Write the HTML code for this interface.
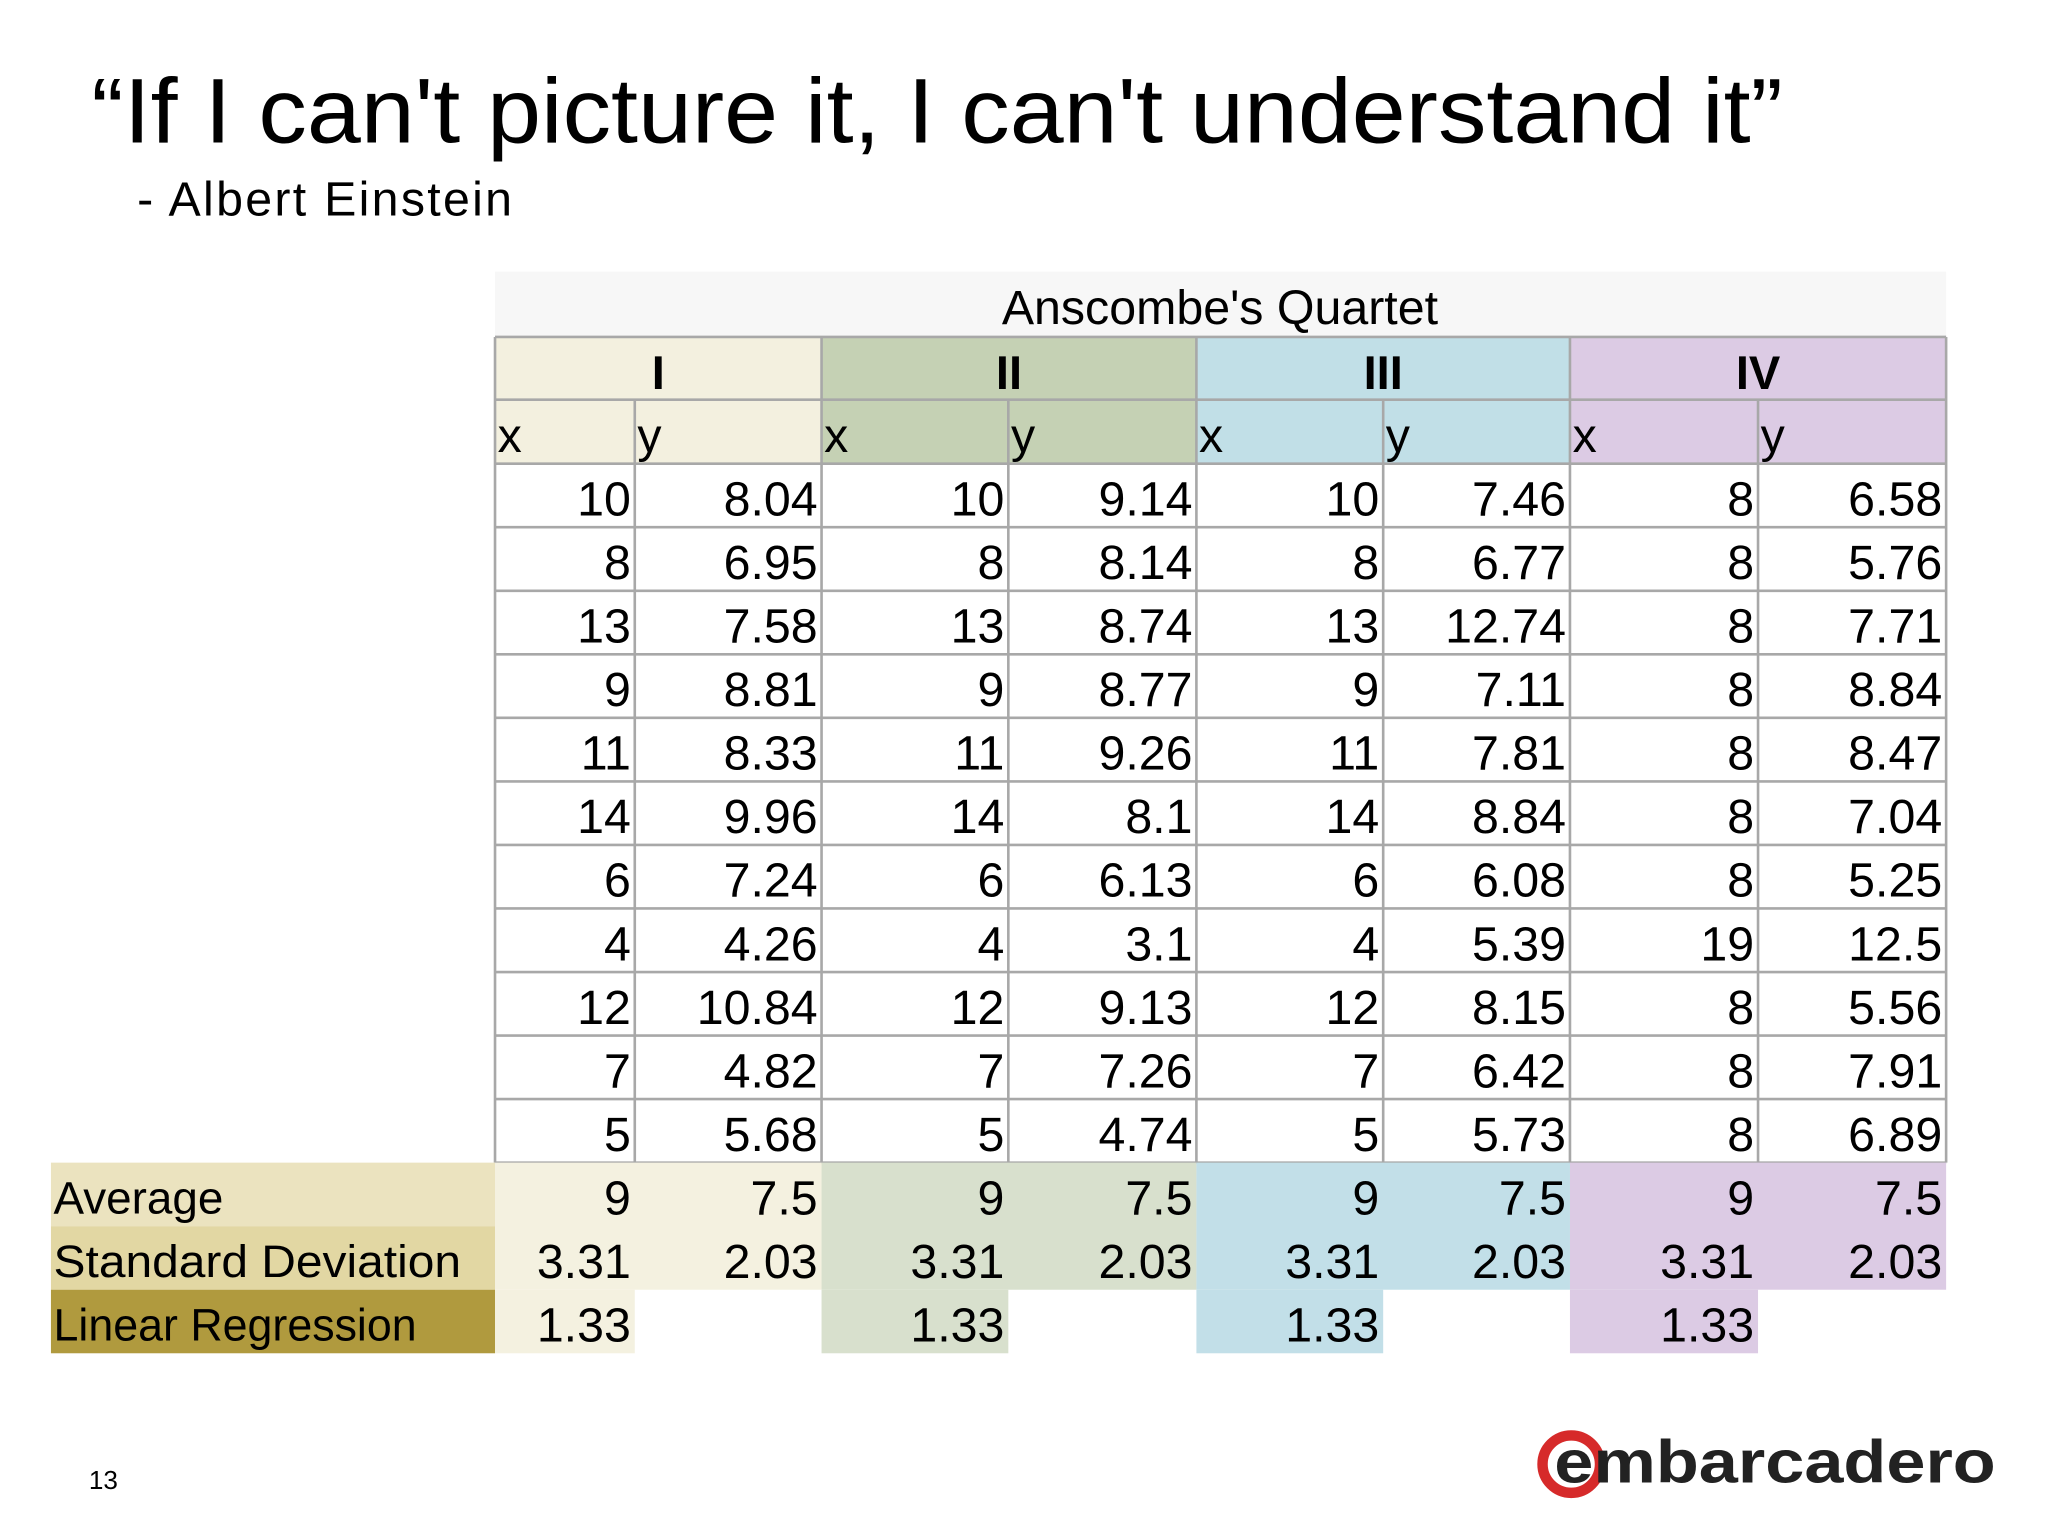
<!DOCTYPE html>
<html><head><meta charset="utf-8"><style>
html,body{margin:0;padding:0;background:#fff;}
svg{display:block;}
text{font-family:"Liberation Sans",sans-serif;}
</style></head><body>
<svg id="s" width="2048" height="1536" viewBox="0 0 1568 1176" xmlns="http://www.w3.org/2000/svg">
<text x="70" y="109" font-size="70" textLength="1295" lengthAdjust="spacingAndGlyphs">“If I can't picture it, I can't understand it”</text>
<text x="105" y="165" font-size="37" textLength="287" lengthAdjust="spacing">-  Albert Einstein</text>
<rect x="379" y="208" width="1111" height="50" fill="#f7f7f7"/>
<text x="934" y="248" font-size="37" text-anchor="middle">Anscombe's Quartet</text>
<g id="tbl"></g>
<text x="68" y="1140" font-size="20">13</text>
<g>
<circle cx="1203" cy="1121" r="22" fill="none" stroke="#d62a2a" stroke-width="8"/>
<text x="1190" y="1135" font-size="46" font-weight="bold" textLength="338" lengthAdjust="spacingAndGlyphs" fill="#222">embarcadero</text>
</g>
</svg>
<script>
const groups = ['I','II','III','IV'];
const xI = [10,8,13,9,11,14,6,4,12,7,5];
const yI = [8.04,6.95,7.58,8.81,8.33,9.96,7.24,4.26,10.84,4.82,5.68];
const xII = [10,8,13,9,11,14,6,4,12,7,5];
const yII = [9.14,8.14,8.74,8.77,9.26,8.1,6.13,3.1,9.13,7.26,4.74];
const xIII = [10,8,13,9,11,14,6,4,12,7,5];
const yIII = [7.46,6.77,12.74,7.11,7.81,8.84,6.08,5.39,8.15,6.42,5.73];
const xIV = [8,8,8,8,8,8,8,19,8,8,8];
const yIV = [6.58,5.76,7.71,8.84,8.47,7.04,5.25,12.5,5.56,7.91,6.89];
const avgX = [9,9,9,9];
const avgY = [7.5,7.5,7.5,7.5];
const sdX = [3.31,3.31,3.31,3.31];
const sdY = [2.03,2.03,2.03,2.03];
const linReg = [1.33,1.33,1.33,1.33];

const NS='http://www.w3.org/2000/svg';
const g=document.getElementById('tbl');
const colX=[379,486,629,772,916,1059,1202,1346,1490];
const headCol=['#f3f0df','#c5d1b4','#c1dfe7','#dccbe4'];
const statCol=['#f4f1e0','#d8e0cd','#c2dfe8','#dccbe4'];
const rowH=48.65, dataTop=355;
function el(t,a,p){const e=document.createElementNS(NS,t);for(const k in a)e.setAttribute(k,a[k]);(p||g).appendChild(e);return e;}
function txt(x,y,s,opts){const e=el('text',Object.assign({x:x,y:y,'font-size':37},opts||{}));e.textContent=s;return e;}
const series=[[xI,yI],[xII,yII],[xIII,yIII],[xIV,yIV]];
for(let i=0;i<4;i++){
  const r=el('rect',{x:colX[2*i],y:258,width:colX[2*i+2]-colX[2*i],height:97,fill:headCol[i]});
  
  
  txt((colX[2*i]+colX[2*i+2])/2,298,groups[i],{'text-anchor':'middle','font-weight':'bold','font-size':36});
  txt(colX[2*i]+2,346,'x');
  txt(colX[2*i+1]+2,346,'y');
}
for(let i=0;i<4;i++){
  for(let r=0;r<series[i][0].length;r++){
    const yb=dataTop+rowH*(r+1)-9;
    const tx=txt(colX[2*i+1]-3,yb,String(series[i][0][r]),{'text-anchor':'end'});
    
    
    const ty=txt(colX[2*i+2]-3,yb,String(series[i][1][r]),{'text-anchor':'end'});
    
    
  }
}
const nRows=xI.length, gridBottom=dataTop+rowH*nRows;
for(let k=0;k<=nRows;k++){const y=dataTop+rowH*k;el('line',{x1:379,x2:1490,y1:y,y2:y,stroke:'#a8a8a8','stroke-width':2});}
el('line',{x1:379,x2:1490,y1:258,y2:258,stroke:'#a8a8a8','stroke-width':2});
el('line',{x1:379,x2:1490,y1:306,y2:306,stroke:'#a8a8a8','stroke-width':2});
colX.forEach((x,j)=>{el('line',{x1:x,x2:x,y1:(j%2==1)?306:258,y2:gridBottom,stroke:'#a8a8a8','stroke-width':2});});
const st=gridBottom;
const labels=['Average','Standard  Deviation','Linear Regression'];
const labCol=['#ebe3bf','#e2d7a3','#b09a3e'];
const labW=[130,312,278];
for(let k=0;k<3;k++){
  el('rect',{x:39,y:st+k*rowH,width:340,height:rowH,fill:labCol[k]});
  const t=txt(41,st+k*rowH+39,labels[k],{'font-size':35,textLength:labW[k],lengthAdjust:'spacingAndGlyphs'});
  
  
}
for(let i=0;i<4;i++){
  el('rect',{x:colX[2*i],y:st,width:colX[2*i+2]-colX[2*i],height:rowH*2,fill:statCol[i]});
  el('rect',{x:colX[2*i],y:st+rowH*2,width:colX[2*i+1]-colX[2*i],height:rowH,fill:statCol[i]});
  const vals=[[avgX[i],avgY[i]],[sdX[i],sdY[i]],[linReg[i],null]];
  vals.forEach((v,k)=>{
    const yb=st+rowH*(k+1)-9;
    const a=txt(colX[2*i+1]-3,yb,String(v[0]),{'text-anchor':'end'});
    
    
    if(v[1]!==null){
      const b=txt(colX[2*i+2]-3,yb,String(v[1]),{'text-anchor':'end'});
      
      
    }
  });
}
</script>
</body></html>
